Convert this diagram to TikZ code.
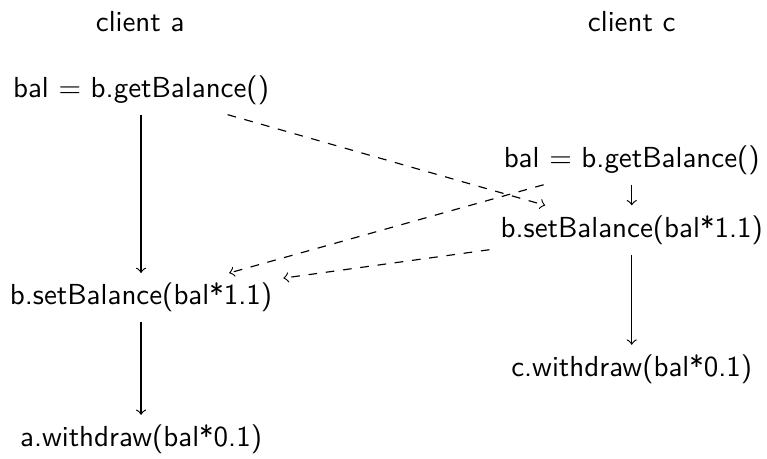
\documentclass[tikz,border=0pt]{standalone}
\usepackage{tikz}
\usetikzlibrary{arrows,calc}

\begin{document}
\begin{tikzpicture}[font=\sffamily]
  \useasboundingbox (0,0) rectangle (9.30,-5.56);
  \draw (1.70,-0.26) node (ca) {client a};
  \draw (7.66,-0.26) node (cc) {client c};

  \draw (1.71,-1.09) node (ga) {bal $=$ b.getBalance()};
  \draw (1.71,-3.61) node (sb) {b.setBalance(bal*1.1)};
  \draw (1.71,-5.33) node (wa) {a.withdraw(bal*0.1)};
    \path[->] (ga) edge (sb);
    \path[->] (sb) edge (wa);

  \draw (7.66,-1.94) node (gc) {bal $=$ b.getBalance()};
  \draw (7.66,-2.79) node (sc) {b.setBalance(bal*1.1)};
  \draw (7.66,-4.48) node (wc) {c.withdraw(bal*0.1)};
    \path[->] (gc) edge (sc);
    \path[->] (sc) edge (wc);

    \path[->,dashed] (ga) edge (sc);
    \path[->,dashed] (gc) edge (sb);
    \draw[->,dashed] ($(sc)!.29!(sb)$) -- ($(sc)!.71!(sb)$);

\end{tikzpicture}
\end{document}
